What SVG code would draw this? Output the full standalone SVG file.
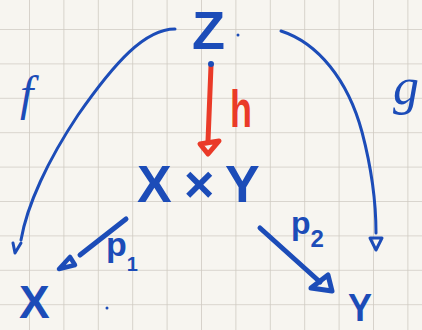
<svg xmlns="http://www.w3.org/2000/svg" width="422" height="330" viewBox="0 0 422 330">
<defs>
<pattern id="grid" x="29" y="29" width="34.4" height="34.4" patternUnits="userSpaceOnUse">
<path d="M0,0 H34.4 M0,0 V34.4" stroke="#cfcac2" stroke-width="1.6" fill="none"/>
</pattern>
</defs>
<style>
.ink{stroke:#1c4cb8;fill:none;stroke-linecap:round;stroke-linejoin:round}
.red{stroke:#ea3a28;fill:none;stroke-linecap:round;stroke-linejoin:round}
.lbl{fill:#1c4cb8;font-family:"Liberation Sans","DejaVu Sans",sans-serif;font-weight:bold}
.scr{fill:#1c4cb8;font-family:"Liberation Serif","DejaVu Serif",serif;font-style:italic}
</style>
<rect width="422" height="330" fill="#f7f5f0"/>
<rect x="-6" y="-6" width="434" height="342" fill="url(#grid)"/>

<g id="connectors">
<g id="f">
<path class="ink" stroke-width="3" d="M175,29 C145,29 115,62 78,115 C48,160 27,205 21,240"/>
<path class="ink" stroke-width="3" d="M13,243 L15,253 L21,243"/>
</g>
<g id="g">
<path class="ink" stroke-width="3" d="M281,31 C318,43 348,80 362,132 C372,170 376,205 376,233"/>
<path class="ink" stroke-width="3" d="M370,238 L382,238 L376,250 Z"/>
</g>
<g id="h">
<path class="red" stroke-width="5" d="M211,66 L208,141"/>
<path class="red" stroke-width="5" d="M200,144 L219,141 L208,154 Z"/>
<circle cx="211" cy="64" r="3" fill="#1c4cb8"/>
</g>
<g id="p1">
<path class="ink" stroke-width="5" d="M126,219 L80,255"/>
<path class="ink" stroke-width="4.5" d="M59,269 L70,257 L75,265 Z"/>
</g>
<g id="p2">
<path class="ink" stroke-width="5" d="M260,228 L320,282"/>
<path class="ink" stroke-width="5" d="M328,275 L332,291 L311,288 Z"/>
</g>
</g>

<g id="node-Z"><text class="lbl" x="192" y="49" font-size="54">Z</text></g>
<g id="node-XxY"><text class="lbl" x="137 184 225" y="202" font-size="52">X×Y</text></g>
<g id="node-X"><text class="lbl" x="19" y="318" font-size="46">X</text></g>
<g id="node-Y"><text class="lbl" x="348" y="321" font-size="38" textLength="24" lengthAdjust="spacingAndGlyphs">Y</text></g>

<g id="labels">
<text class="scr" x="20" y="110" font-size="48">f</text>
<text class="scr" x="393" y="104" font-size="52">g</text>
<text x="230" y="127" font-size="52" fill="#ea3a28" font-family="Liberation Sans, DejaVu Sans, sans-serif" font-weight="bold" textLength="22" lengthAdjust="spacingAndGlyphs">h</text>
<text class="lbl" x="106" y="256" font-size="34">p<tspan font-size="20" dy="15">1</tspan></text>
<text class="lbl" x="291" y="234" font-size="32">p<tspan font-size="24" dy="13">2</tspan></text>
</g>
<circle cx="238" cy="35" r="1.5" fill="#1c4cb8"/>
<circle cx="107" cy="308" r="1.5" fill="#1c4cb8"/>
</svg>
